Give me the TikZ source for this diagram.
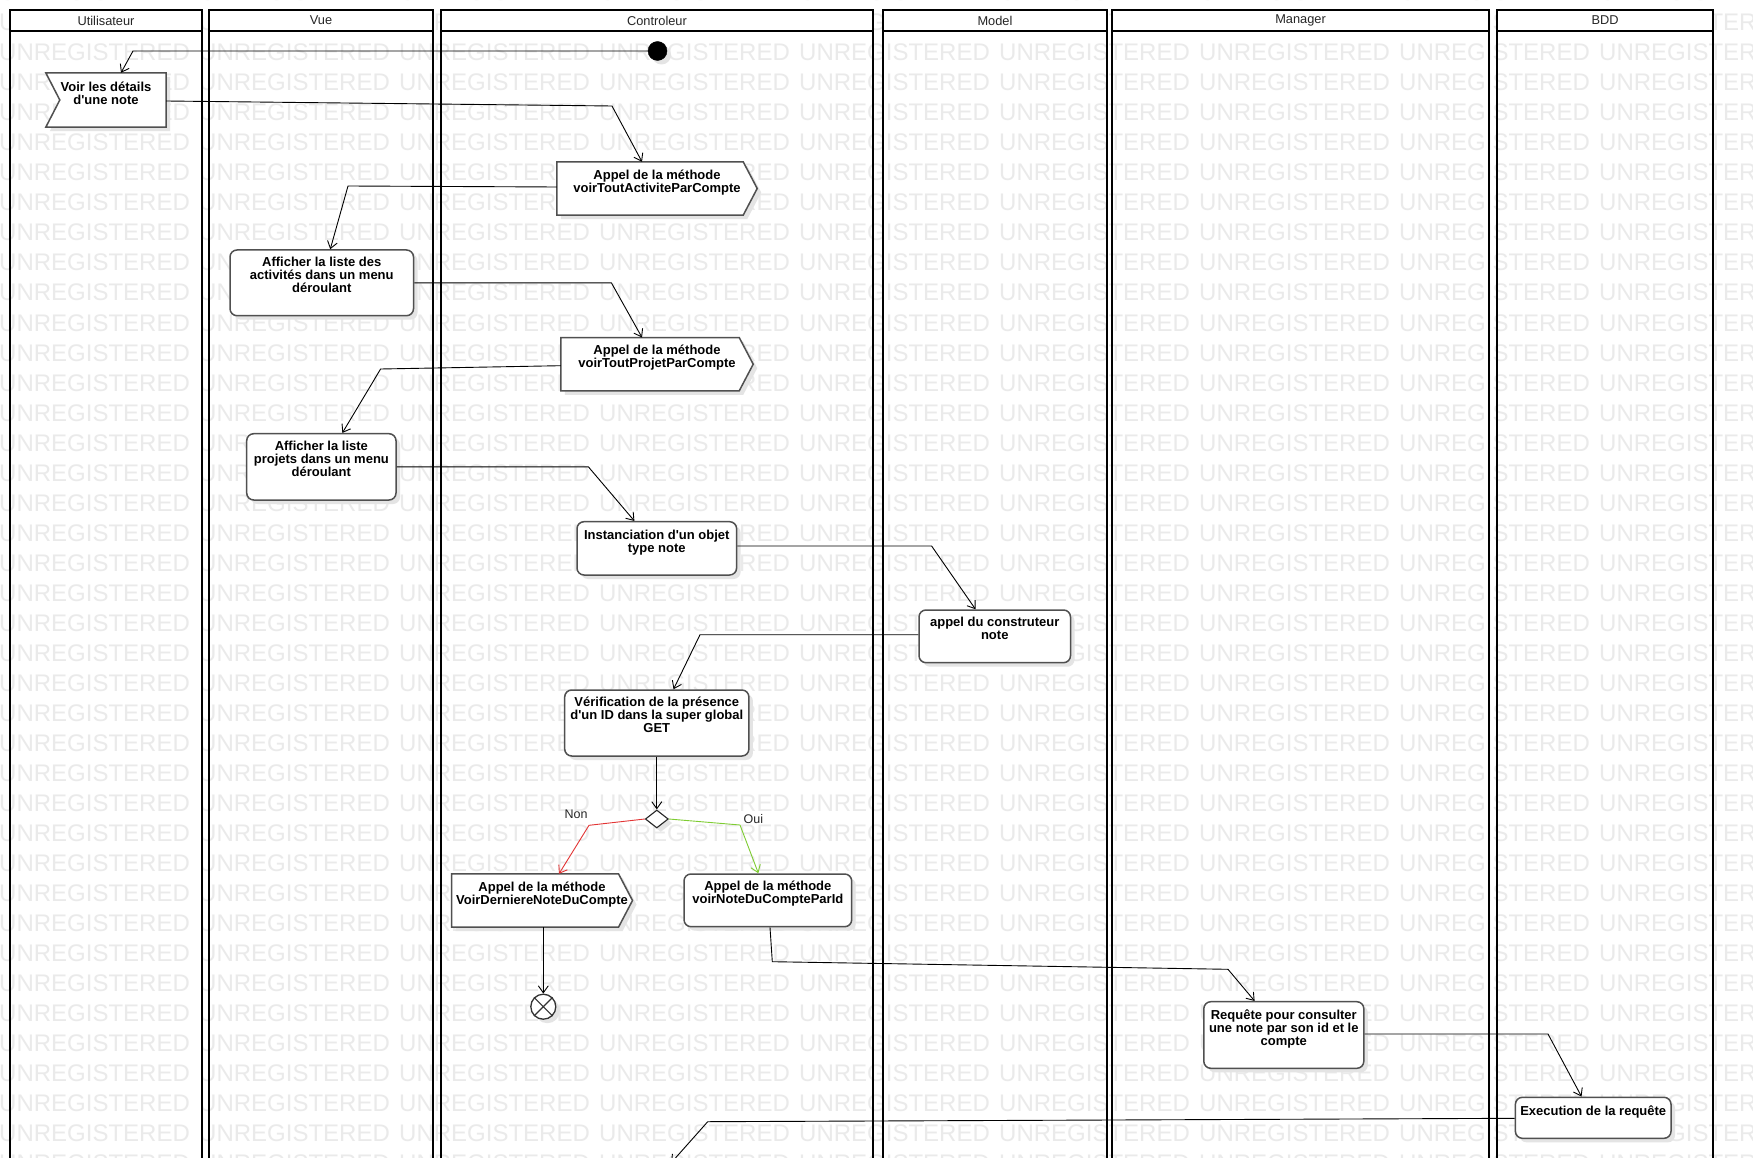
\documentclass[tikz,border=0pt]{standalone}
\usepackage{fontspec}
\setmainfont{Liberation Sans}
\usetikzlibrary{arrows.meta,calc,shadows,shapes.geometric}
\definecolor{wmgray}{RGB}{234,234,234}
\definecolor{boxedge}{RGB}{80,80,80}
\definecolor{nored}{RGB}{226,52,52}
\definecolor{ouigreen}{RGB}{126,204,50}
\definecolor{shadowgray}{RGB}{228,228,228}
\newcommand\sendshape[1]{\path[sig] (#1.north west) -- ($(#1.north east)+(-14,0)$) -- (#1.east) -- ($(#1.south east)+(-14,0)$) -- (#1.south west) -- cycle;}
\newcommand\acceptshape[1]{\path[sig] (#1.north west) -- (#1.north east) -- (#1.south east) -- (#1.south west) -- ($(#1.west)+(14,0)$) -- cycle;}
\newcommand\apos{\textquotesingle}
\begin{document}
\begin{tikzpicture}[x=1pt,y=-1pt,
  shad/.style={drop shadow={shadow xshift=4pt,shadow yshift=-4pt,fill=shadowgray,opacity=1}},
  wm/.style={anchor=base west,inner sep=0pt,text=wmgray,font=\fontsize{24}{24}\selectfont},
  laneline/.style={draw=black,line width=2.2pt},
  lanehead/.style={draw=black,line width=2.2pt,fill=white,inner sep=0pt,text=black!85,font=\fontsize{12.8}{14}\selectfont},
  rbox/.style={rectangle,rounded corners=7pt,draw=boxedge,line width=1.5pt,fill=white,inner sep=0pt,shad},
  ghost/.style={rectangle,inner sep=0pt,draw=none},
  sig/.style={draw=boxedge,line width=1.5pt,fill=white,line join=miter,shad},
  ntxt/.style={anchor=north,inner sep=0pt,align=center,font=\bfseries\fontsize{13}{13}\selectfont},
  lbl/.style={inner sep=0pt,text=black!85,font=\fontsize{12.5}{14}\selectfont},
  flow/.style={draw=black,line width=0.9pt,-{Straight Barb[length=7pt,width=10pt,line width=0.9pt]}},
  initst/.style={circle,fill=black,draw=black,minimum size=19pt,inner sep=0pt,shad},
  finst/.style={circle,fill=white,draw=black!80,line width=1.3pt,minimum size=25pt,inner sep=0pt,shad},
  decst/.style={diamond,fill=white,draw=black!85,line width=1.1pt,minimum width=23pt,minimum height=18pt,inner sep=0pt,shad}
]
\useasboundingbox (0,0) rectangle (1753,1158);
\clip (0,0) rectangle (1753,1158);
\fill[white] (0,0) rectangle (1753,1158);

% watermark
\foreach \r in {0,...,39}{
  \foreach \c in {0,...,8}{
    \node[wm] (wm-\r-\c) at (-1+200*\c,1+30*\r) {UNREGISTERED};
  }
}

% swimlanes
\foreach \nm/\l/\r in {Utilisateur/10/202,Vue/209/433,Controleur/441/873,Model/883/1107,Manager/1112/1489,BDD/1497/1713}{
  \draw[laneline] (\l,31) -- (\l,1175) (\r,31) -- (\r,1175);
  \node[lanehead,minimum width={(\r-\l)*1pt},minimum height=21pt] (lane-\nm) at ({(\l+\r)/2},20.5) {\nm};
}

% nodes
\node[initst] (init) at (657.5,51) {};

\node[ghost,minimum width=120pt,minimum height=54pt] (voir) at (106,100) {};
\acceptshape{voir}
\node[ntxt] (voir-t) at ($(voir.north)+(0,9)$) {Voir les détails\\d\apos une note};

\node[ghost,minimum width=200pt,minimum height=53pt] (appel1) at (657,188.5) {};
\sendshape{appel1}
\node[ntxt] (appel1-t) at ($(appel1.north)+(0,7.5)$) {Appel de la méthode\\voirToutActiviteParCompte};

\node[rbox,minimum width=183.5pt,minimum height=65.7pt] (aff1) at (321.75,282.85) {};
\node[ntxt] (aff1-t) at ($(aff1.north)+(0,8)$) {Afficher la liste des\\activités dans un menu\\déroulant};

\node[ghost,minimum width=192pt,minimum height=53pt] (appel2) at (657,364.2) {};
\sendshape{appel2}
\node[ntxt] (appel2-t) at ($(appel2.north)+(0,7.5)$) {Appel de la méthode\\voirToutProjetParCompte};

\node[rbox,minimum width=149.3pt,minimum height=66.3pt] (aff2) at (321.35,466.85) {};
\node[ntxt] (aff2-t) at ($(aff2.north)+(0,8)$) {Afficher la liste\\projets dans un menu\\déroulant};

\node[rbox,minimum width=159.6pt,minimum height=53.3pt] (inst) at (656.8,548.35) {};
\node[ntxt] (inst-t) at ($(inst.north)+(0,8.5)$) {Instanciation d\apos un objet\\type note};

\node[rbox,minimum width=151.5pt,minimum height=52.7pt] (constr) at (994.75,636.35) {};
\node[ntxt] (constr-t) at ($(constr.north)+(0,8)$) {appel du construteur\\note};

\node[rbox,minimum width=184.2pt,minimum height=66pt] (verif) at (656.8,723) {};
\node[ntxt] (verif-t) at ($(verif.north)+(0,7.5)$) {Vérification de la présence\\d\apos un ID dans la super global\\GET};

\node[decst] (dec) at (656.8,819) {};

\node[ghost,minimum width=180.6pt,minimum height=53pt] (derniere) at (542,900.5) {};
\sendshape{derniere}
\node[ntxt] (derniere-t) at ($(derniere.north)+(0,8)$) {Appel de la méthode\\VoirDerniereNoteDuCompte};

\node[rbox,minimum width=167.7pt,minimum height=52.7pt] (parid) at (767.85,900.35) {};
\node[ntxt] (parid-t) at ($(parid.north)+(0,8)$) {Appel de la méthode\\voirNoteDuCompteParId};

\node[finst] (final) at (543.3,1006.7) {};
\draw[black!80,line width=1.1pt] (final.45) -- (final.225) (final.135) -- (final.315);

\node[rbox,minimum width=160pt,minimum height=66.6pt] (req) at (1283.8,1035) {};
\node[ntxt] (req-t) at ($(req.north)+(0,8.5)$) {Requête pour consulter\\une note par son id et le\\compte};

\node[rbox,minimum width=155.6pt,minimum height=41pt] (exec) at (1593.2,1117.8) {};
\node[ntxt] (exec-t) at ($(exec.north)+(0,9)$) {Execution de la requête};

\coordinate (offpage) at (671,1163);

% connectors
\draw[flow] (init.west) -- (133,51) -- ($(voir.north)+(15,0)$);
\draw[flow] ($(voir.east)+(0,1)$) -- (612,106) -- ($(appel1.north)+(-15,0)$);
\draw[flow] ($(appel1.west)+(0,-1.5)$) -- (348,186) -- ($(aff1.north)+(8.5,0)$);
\draw[flow] (aff1.east) -- (611.4,282.85) -- ($(appel2.north)+(-15,0)$);
\draw[flow] ($(appel2.west)+(0,1.5)$) -- (380.6,369) -- ($(aff2.north)+(21,0)$);
\draw[flow] (aff2.east) -- (588.4,466.85) -- ($(inst.north)+(-22.4,0)$);
\draw[flow] ($(inst.east)+(0,-2.35)$) -- (931.6,546) -- ($(constr.north)+(-19.25,0)$);
\draw[flow] ($(constr.west)+(0,-1.65)$) -- (700,634.7) -- ($(verif.north)+(16.7,0)$);
\draw[flow] (verif.south) -- (dec.north);
\draw[flow,draw=nored,-{Straight Barb[length=7pt,width=10pt,line width=0.9pt,color=nored]}] (dec.west) -- (589,825.3) -- ($(derniere.north)+(17,0)$);
\draw[flow,draw=ouigreen,-{Straight Barb[length=7pt,width=10pt,line width=0.9pt,color=ouigreen]}] (dec.east) -- (740,825) -- ($(parid.north)+(-9.5,0)$);
\node[lbl] (non) at (576,814.7) {Non};
\node[lbl] (oui) at (753.3,819.3) {Oui};
\draw[flow] (final.north |- derniere.south) -- (final.north);
\draw[flow] ($(parid.south)+(2.15,0)$) -- (772.3,961.7) -- (1228,969.3) -- ($(req.north)+(-29.2,0)$);
\draw[flow] ($(req.east)+(0,-1)$) -- (1548,1034) -- ($(exec.north)+(-11.7,0)$);
\draw[flow] ($(exec.west)+(0,0.5)$) -- (707.7,1121.7) -- (offpage);
\end{tikzpicture}
\end{document}
